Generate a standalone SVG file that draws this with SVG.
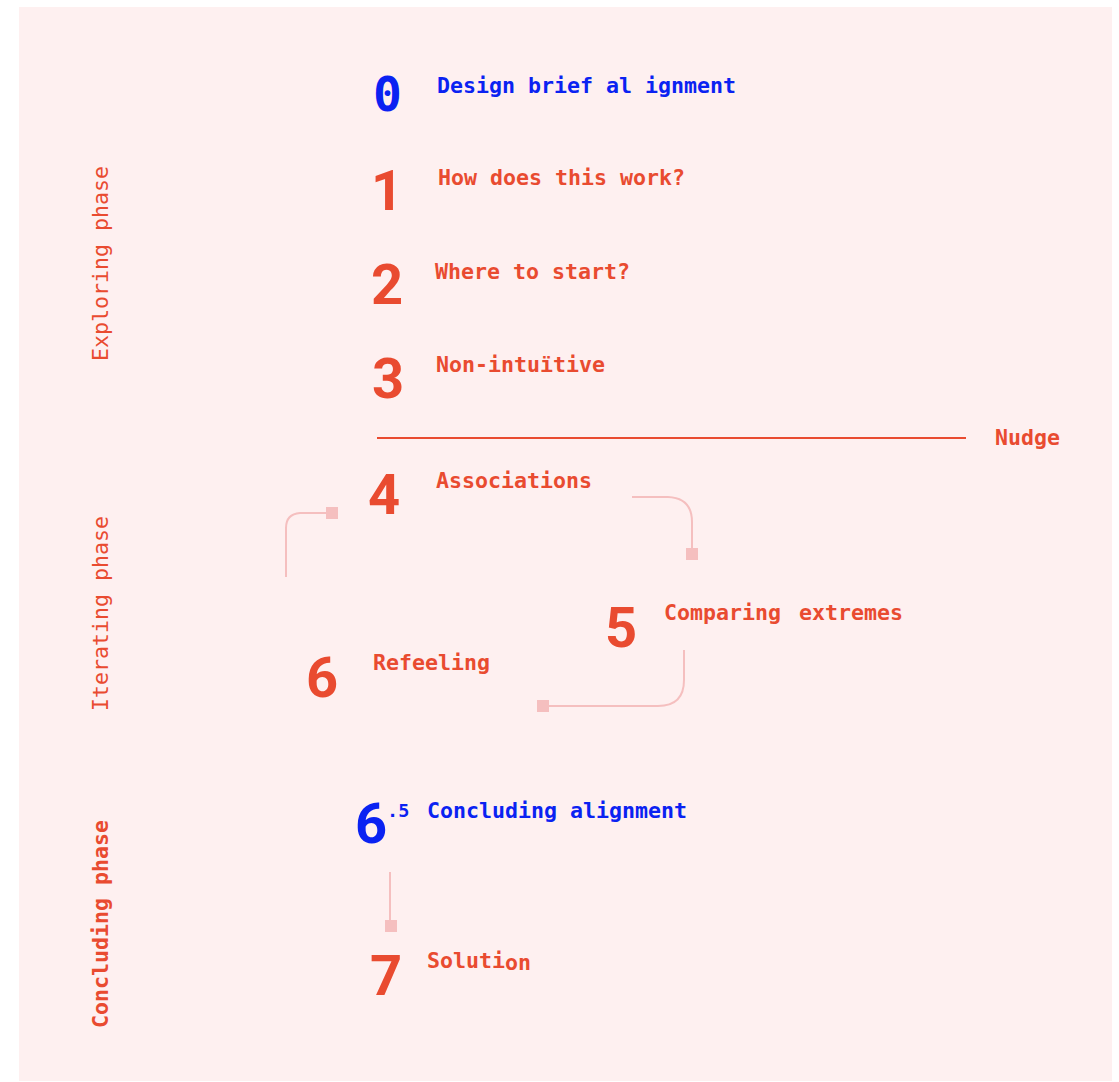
<svg xmlns="http://www.w3.org/2000/svg" width="1119" height="1082" viewBox="0 0 1119 1082">
<style>
.lbl{font-family:"DejaVu Sans Mono","Liberation Mono",monospace;font-weight:bold;font-size:21.6px;fill:#e94b30}
.num{font-family:Roboto,"Liberation Sans",sans-serif;font-weight:bold;font-size:56px;fill:#e94b30}
.blue{fill:#0a22f2}
.phase{font-family:"DejaVu Sans Mono","Liberation Mono",monospace;font-size:21.6px;fill:#e94b30}
.conn{fill:none;stroke:#f5bfbf;stroke-width:2}
.sq{fill:#f5bfbf}
</style>
<rect x="19" y="7" width="1093" height="1074" fill="#fef0f0"/>
<g id="phases">
<text class="phase" transform="translate(108,361) rotate(-90)">Exploring phase</text>
<text class="phase" transform="translate(108,711) rotate(-90)">Iterating phase</text>
<text class="phase" style="font-weight:bold" transform="translate(108,1028) rotate(-90)">Concluding phase</text>
</g>
<g id="connectors">
<line x1="377" y1="438" x2="966" y2="438" stroke="#e94b30" stroke-width="2"/>
<path class="conn" d="M286 577 V528 Q286 514 300 513 H330"/>
<rect class="sq" x="326" y="507" width="12" height="12"/>
<path class="conn" d="M632 497 H668 Q692 498 692 522 V552"/>
<rect class="sq" x="686" y="548" width="12" height="12"/>
<path class="conn" d="M684 650 V680 Q684 706 658 706 H545"/>
<rect class="sq" x="537" y="700" width="12" height="12"/>
<path class="conn" d="M390 872 V922"/>
<rect class="sq" x="385" y="920" width="12" height="12"/>
</g>
<g id="step0">
<text class="lbl blue" x="373" y="111" style="font-size:48px">0</text>
<text class="lbl blue" x="437" y="93">Design brief al ignment</text>
</g>
<g id="step1">
<text class="num" x="371" y="210">1</text>
<text class="lbl" x="438" y="185">How does this work?</text>
</g>
<g id="step2">
<text class="num" x="371" y="304">2</text>
<text class="lbl" x="435" y="279">Where to start?</text>
</g>
<g id="step3">
<text class="num" x="372" y="398">3</text>
<text class="lbl" x="436" y="372">Non-intuïtive</text>
</g>
<g id="nudge">
<text class="lbl" x="995" y="445">Nudge</text>
</g>
<g id="step4">
<text class="num" x="368" y="514">4</text>
<text class="lbl" x="436" y="488">Associations</text>
</g>
<g id="step5">
<text class="num" x="605" y="647">5</text>
<text class="lbl" x="664" y="620">Comparing<tspan x="799">extremes</tspan></text>
</g>
<g id="step6">
<text class="num" x="306" y="697">6</text>
<text class="lbl" x="373" y="670">Refeeling</text>
</g>
<g id="step6-5">
<text class="num blue" x="355" y="843">6</text>
<text class="lbl blue" x="387" y="817" style="font-size:18.5px">.5</text>
<text class="lbl blue" x="427" y="818">Concluding alignment</text>
</g>
<g id="step7">
<text class="num" x="370" y="995">7</text>
<text class="lbl" x="427" y="968">Soluti<tspan dy="2">on</tspan></text>
</g>
</svg>
